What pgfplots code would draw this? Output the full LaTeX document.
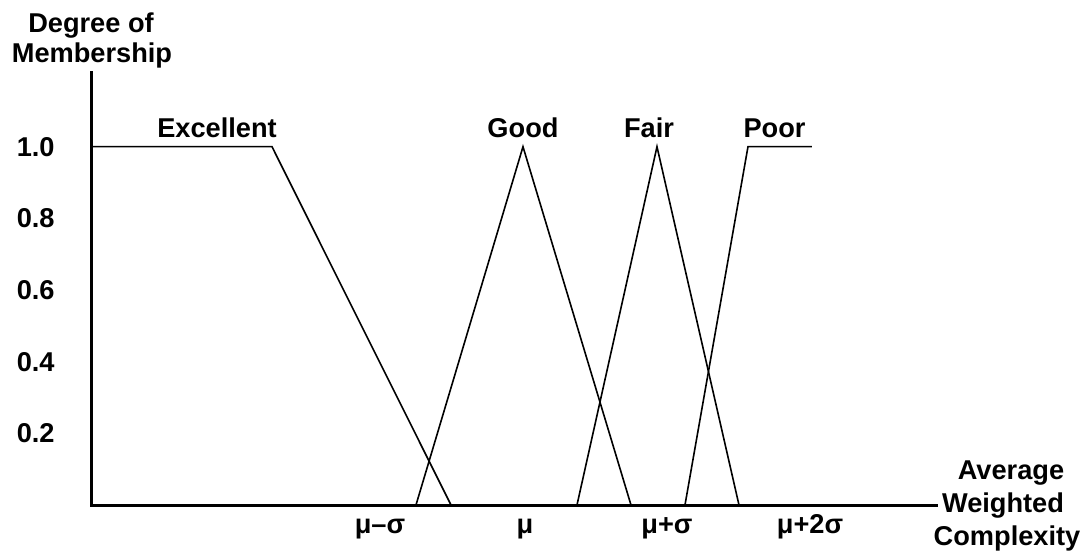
\documentclass[border=0pt]{standalone}
\usepackage{fontspec}
\setmainfont{Liberation Sans}
\usepackage{pgfplots}
\pgfplotsset{compat=1.18}
\newcommand{\lblfont}{\fontsize{13.6bp}{16bp}\selectfont\bfseries}
\begin{document}
\begin{tikzpicture}[font=\lblfont]
\useasboundingbox (-46bp,-27.5bp) rectangle (499bp,252.5bp);
\begin{axis}[
  x=0.5bp, y=179.15bp,
  xmin=0, xmax=845, ymin=0, ymax=1.206,
  axis lines*=left,
  axis line style={line width=1.5bp, line cap=rect},
  clip=false,
  xtick={288,433,575,718},
  xticklabels={μ–σ, μ, μ+σ, μ+2σ},
  ytick={0.2,0.4,0.6,0.8,1.0},
  yticklabels={0.2,0.4,0.6,0.8,1.0},
  major tick length=0pt,
  tick style={draw=none},
  tick label style={font=\lblfont},
  xticklabel style={anchor=base, inner sep=0pt, yshift=-14bp},
  yticklabel style={anchor=east, inner sep=0pt, xshift=-18.5bp},
]
% membership functions
\addplot[black, line width=0.8bp, line join=miter] coordinates {(0,1) (180,1) (359,0)};
\addplot[black, line width=0.8bp, line join=miter] coordinates {(324,0) (431,1) (539,0)};
\addplot[black, line width=0.8bp, line join=miter] coordinates {(485,0) (565,1) (647,0)};
\addplot[black, line width=0.8bp, line join=miter] coordinates {(593,0) (656,1) (720,1)};
% set names
\node[anchor=base, inner sep=0pt] at (axis cs:125,1.027) {Excellent};
\node[anchor=base, inner sep=0pt] at (axis cs:431,1.027) {Good};
\node[anchor=base, inner sep=0pt] at (axis cs:557,1.027) {Fair};
\node[anchor=base, inner sep=0pt] at (axis cs:682.5,1.027) {Poor};
\end{axis}
% axis titles
\node[anchor=base, inner sep=0pt] at (-0.5bp,236bp) {Degree of};
\node[anchor=base, inner sep=0pt] at (0bp,221bp) {Membership};
\node[anchor=base, inner sep=0pt] at (459.5bp,13bp) {Average};
\node[anchor=base, inner sep=0pt] at (455.5bp,-3.5bp) {Weighted};
\node[anchor=base, inner sep=0pt] at (457.5bp,-20bp) {Complexity};
\end{tikzpicture}
\end{document}
